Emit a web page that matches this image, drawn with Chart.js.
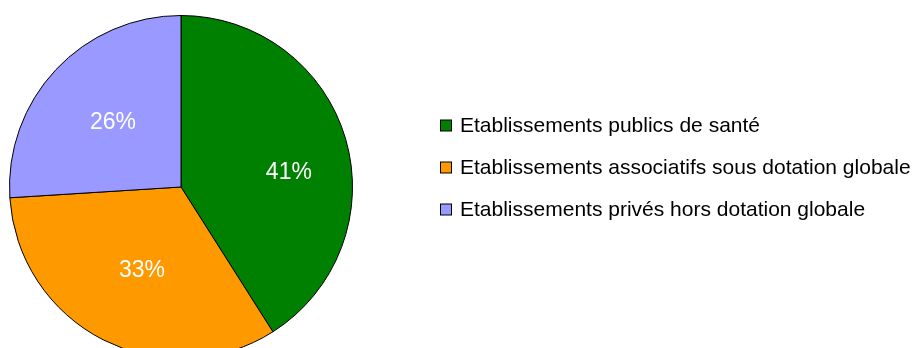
<!DOCTYPE html>
<html>
<head>
<meta charset="utf-8">
<script src="https://cdn.jsdelivr.net/npm/chart.js@4.4.0/dist/chart.umd.min.js"></script>
<style>
  html, body { margin: 0; padding: 0; background: #fff; overflow: hidden; width: 919px; height: 348px; }
  #wrap { position: relative; width: 919px; height: 374px; }
</style>
</head>
<body>
<div id="wrap"><canvas id="c"></canvas></div>
<script>
const categories = [
  "Etablissements publics de santé",
  "Etablissements associatifs sous dotation globale",
  "Etablissements privés hors dotation globale"
];
const shares = [41, 33, 26];
const sliceColors = ["#008000", "#FF9900", "#9999FF"];

const labelPlugin = {
  id: 'sliceLabels',
  afterDatasetsDraw(chart, args, opts) {
    const ctx = chart.ctx;
    const meta = chart.getDatasetMeta(0);
    const data = chart.data.datasets[0].data;
    const total = data.reduce((a, b) => a + b, 0);
    ctx.save();
    ctx.font = opts.font;
    ctx.fillStyle = opts.color;
    ctx.textAlign = 'center';
    ctx.textBaseline = 'middle';
    meta.data.forEach((arc, i) => {
      const p = arc.getProps(['x', 'y', 'startAngle', 'endAngle', 'outerRadius'], true);
      const a = p.startAngle + (p.endAngle - p.startAngle) * opts.angleFrac[i];
      const d = p.outerRadius * opts.radiusFrac[i];
      const txt = Math.round(data[i] / total * 100) + '%';
      ctx.fillText(txt, p.x + Math.cos(a) * d, p.y + Math.sin(a) * d + 1);
    });
    ctx.restore();
  }
};

const legendPlugin = {
  id: 'sideLegend',
  afterDraw(chart, args, opts) {
    const ctx = chart.ctx;
    const labels = chart.data.labels;
    const colors = chart.data.datasets[0].backgroundColor;
    ctx.save();
    ctx.font = opts.font;
    ctx.textBaseline = 'middle';
    ctx.textAlign = 'left';
    labels.forEach((lab, i) => {
      const cy = opts.top + i * opts.rowGap;
      ctx.fillStyle = colors[i];
      ctx.fillRect(opts.x + 0.5, cy - opts.box / 2 + 0.5, opts.box, opts.box);
      ctx.lineWidth = 1;
      ctx.strokeStyle = '#000';
      ctx.strokeRect(opts.x + 0.5, cy - opts.box / 2 + 0.5, opts.box, opts.box);
      ctx.fillStyle = '#000';
      ctx.fillText(lab, opts.textX, cy + 1);
    });
    ctx.restore();
  }
};

new Chart(document.getElementById('c'), {
  type: 'pie',
  data: {
    labels: categories,
    datasets: [{
      data: shares,
      backgroundColor: sliceColors,
      borderColor: '#000',
      borderWidth: 1
    }]
  },
  options: {
    responsive: true,
    maintainAspectRatio: false,
    animation: false,
    events: [],
    rotation: 0,
    layout: { padding: { left: 9, top: 15, right: 566, bottom: 15 } },
    plugins: {
      legend: { display: false },
      tooltip: { enabled: false },
      sliceLabels: {
        font: '23px "Liberation Sans", Arial, sans-serif',
        color: '#fff',
        angleFrac: [0.556, 0.485, 0.505],
        radiusFrac: [0.635, 0.535, 0.548]
      },
      sideLegend: {
        font: '21px "Liberation Sans", Arial, sans-serif',
        x: 440, textX: 460, box: 11, top: 125, rowGap: 42
      }
    }
  },
  plugins: [labelPlugin, legendPlugin]
});
</script>
</body>
</html>
